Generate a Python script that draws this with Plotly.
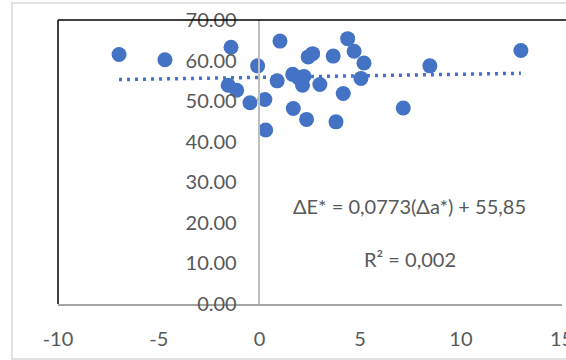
import plotly.graph_objects as go

# Δa* (x) and ΔE* (y) values
delta_a = [-6.97, -4.69, -1.41, 1.02, 4.38, 4.70, 5.19, 3.66, 2.64, 2.42,
           -0.09, 8.46, 12.98, -1.55, -1.13, 0.88, 1.65, 2.21, 2.14, 3.00,
           5.04, 4.16, -0.47, 0.27, 1.68, 2.34, 3.80, 7.14, 0.31, 1.93]
delta_E = [61.5, 60.2, 63.3, 64.8, 65.4, 62.3, 59.4, 61.1, 61.7, 60.9,
           58.7, 58.7, 62.5, 53.9, 52.7, 55.0, 56.6, 56.1, 53.9, 54.1,
           55.6, 51.9, 49.6, 50.4, 48.2, 45.5, 44.9, 48.3, 42.9, 55.8]

# Linear trendline as stated on the chart
slope = 0.0773
intercept = 55.85
eq_text = "ΔE* = 0,0773(Δa*) + 55,85"
r2_text = "R² = 0,002"

x_ticks = [-10, -5, 0, 5, 10, 15]
y_ticks = [0, 10, 20, 30, 40, 50, 60, 70]

blue = "#4472C4"
font = "Lato, 'Open Sans', sans-serif"

trend_x = [min(delta_a), max(delta_a)]
trend_y = [slope * v + intercept for v in trend_x]

fig = go.Figure()
fig.add_trace(go.Scatter(x=trend_x, y=trend_y, mode="lines",
                         line=dict(color=blue, width=3.5, dash="3px,5px"),
                         showlegend=False, hoverinfo="skip"))
fig.add_trace(go.Scatter(x=delta_a, y=delta_E, mode="markers",
                         marker=dict(color=blue, size=15, line=dict(width=0)),
                         showlegend=False))

fig.update_layout(
    width=566, height=360,
    margin=dict(l=58, r=4, t=20, b=56, autoexpand=False),
    paper_bgcolor="white", plot_bgcolor="white",
    font=dict(family=font, size=20, color="#595959"),
    xaxis=dict(range=[-10, 15.02], tickvals=x_ticks, ticktext=[str(v) for v in x_ticks],
               showgrid=False, zeroline=False, showline=True, automargin=False,
               linecolor="#a6a6a6", linewidth=1.5, ticks="",
               ticklabeloverflow="allow",
               ticklabelstandoff=16, tickfont=dict(size=20, color="#595959")),
    yaxis=dict(range=[0, 70], tickvals=y_ticks, tickformat=".2f",
               showgrid=False, zeroline=False, showline=True, automargin=False,
               linecolor="#bfbfbf", linewidth=1.5, ticks="",
               anchor="free", position=10 / 25.02,
               ticklabelstandoff=18, tickfont=dict(size=20, color="#595959")),
    shapes=[
        dict(type="rect", xref="paper", yref="paper", x0=-0.0915, x1=1.2,
             y0=-0.194, y1=1.06, line=dict(color="#d9d9d9", width=1.5), layer="below"),
        dict(type="line", xref="paper", yref="paper", x0=0, x1=0, y0=0, y1=1,
             line=dict(color="black", width=1.5)),
        dict(type="line", xref="paper", yref="paper", x0=0, x1=1.02, y0=1, y1=1,
             line=dict(color="black", width=1.5)),
    ],
    annotations=[
        dict(x=7.46, y=24.2, xref="x", yref="y", text=eq_text, showarrow=False,
             font=dict(family=font, size=20, color="#595959")),
        dict(x=7.46, y=11.1, xref="x", yref="y", text=r2_text, showarrow=False,
             font=dict(family=font, size=20, color="#595959")),
    ],
)

fig.write_html("out.html", config={"displayModeBar": False},
               post_script="document.body.style.margin='0';document.body.style.overflow='hidden';")
